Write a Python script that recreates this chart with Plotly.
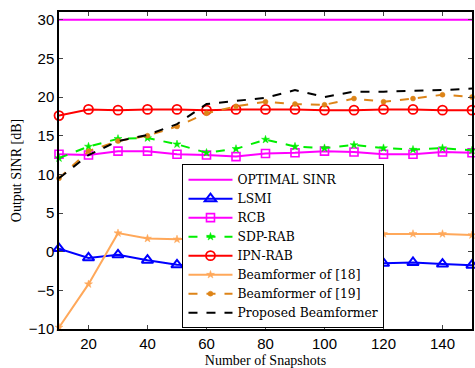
import plotly.graph_objects as go

snapshots = [10, 20, 30, 40, 50, 60, 70, 80, 90, 100, 110, 120, 130, 140, 150]
optimal = [30] * 15
lsmi = [0.4, -0.8, -0.4, -1.1, -1.7, -1.8, -1.7, -1.6, -1.7, -1.6, -1.6, -1.5, -1.4, -1.6, -1.75]
rcb = [12.6, 12.5, 13.0, 13.0, 12.6, 12.5, 12.3, 12.7, 12.8, 13.0, 12.9, 12.6, 12.6, 12.9, 12.8]
sdp = [12.1, 13.6, 14.6, 14.7, 13.9, 12.8, 13.3, 14.5, 13.6, 13.4, 13.8, 13.4, 13.2, 13.4, 13.1]
ipn = [17.6, 18.4, 18.3, 18.4, 18.4, 18.3, 18.4, 18.4, 18.4, 18.3, 18.3, 18.4, 18.4, 18.3, 18.3]
bf18 = [-9.8, -4.2, 2.4, 1.7, 1.6, 1.8, 1.9, 2.0, 2.1, 2.2, 2.2, 2.3, 2.3, 2.3, 2.15]
bf19 = [9.5, 13.0, 14.3, 15.0, 16.2, 17.9, 18.8, 19.4, 19.1, 19.0, 19.8, 19.4, 19.8, 20.3, 20.0]
proposed = [9.5, 12.5, 14.3, 15.1, 16.5, 19.1, 19.5, 19.9, 20.9, 20.0, 20.7, 20.7, 20.8, 20.9, 21.1]

fig = go.Figure()

def add(name, y, color, dash, symbol=None, msize=8, lw=1.6):
    mode = "lines+markers" if symbol else "lines"
    marker = dict(symbol=symbol, size=msize, color=color,
                  line=dict(color=color, width=lw)) if symbol else None
    fig.add_trace(go.Scatter(x=snapshots, y=y, name=name, mode=mode,
                             line=dict(color=color, width=2, dash=dash),
                             marker=marker, cliponaxis=False))

add("OPTIMAL SINR", optimal, "#FF00FF", "solid")
add("LSMI", lsmi, "#0000FF", "solid", "triangle-up-open", 10, 2)
add("RCB", rcb, "#FF00FF", "solid", "square-open", 8, 1.6)
add("SDP-RAB", sdp, "#00EE00", "dash", "star", 6, 0.5)
add("IPN-RAB", ipn, "#FF0000", "solid", "circle-open", 9, 1.8)
add("Beamformer of [18]", bf18, "#FFA85A", "solid", "star", 6, 0.5)
add("Beamformer of [19]", bf19, "#DD8418", "dash", "circle", 5, 0.5)
add("Proposed Beamformer", proposed, "#000000", "dash")

fig.update_layout(
    width=475, height=368,
    margin=dict(l=59, r=1, t=12, b=36),
    paper_bgcolor="white", plot_bgcolor="white",
    showlegend=True,
    legend=dict(x=0.299, y=0.52, xanchor="left", yanchor="top",
                bgcolor="white", bordercolor="black", borderwidth=1,
                font=dict(family="DejaVu Serif", size=12.3, color="black"),
                tracegroupgap=0, itemwidth=44),
)
fig.update_xaxes(range=[10, 150], tickvals=[20, 40, 60, 80, 100, 120, 140],
                 ticks="inside", ticklen=4, mirror="ticks", showline=True,
                 linecolor="black", linewidth=1.5, showgrid=False, zeroline=False,
                 tickfont=dict(family="Liberation Sans", size=15, color="black"),
                 title=dict(text="Number of Snapshots", standoff=5,
                            font=dict(family="Liberation Serif", size=14, color="black")))
fig.update_yaxes(range=[-10, 31], tickvals=[-10, -5, 0, 5, 10, 15, 20, 25, 30],
                 ticks="inside", ticklen=4, mirror="ticks", showline=True,
                 linecolor="black", linewidth=1.5, showgrid=False, zeroline=False,
                 tickfont=dict(family="Liberation Sans", size=15, color="black"),
                 title=dict(text="Output SINR [dB]", standoff=4,
                            font=dict(family="Liberation Serif", size=14, color="black")))

fig.write_html("out.html", config={"displayModeBar": False},
               post_script="document.body.style.margin='0';")
